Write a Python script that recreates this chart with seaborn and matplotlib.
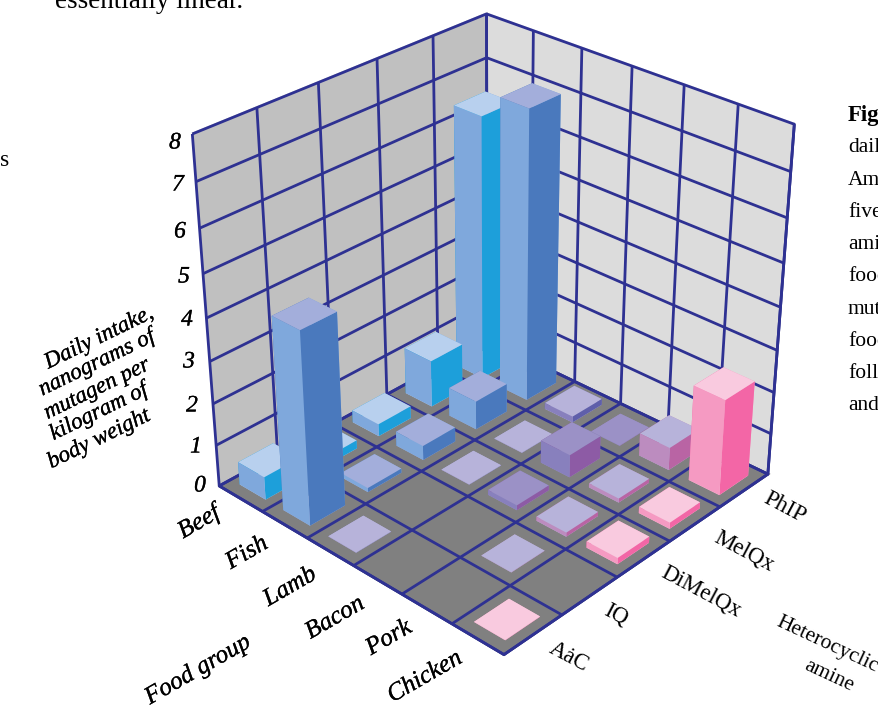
import numpy as np
import matplotlib
matplotlib.use("Agg")
import matplotlib.pyplot as plt
import matplotlib.patheffects as pe
import seaborn as sns

# Daily intake (ng mutagen / kg body weight) by food group and heterocyclic amine
foods = ["Beef", "Fish", "Lamb", "Bacon", "Pork", "Chicken"]
amines = ["AȧC", "IQ", "DiMelQx", "MelQx", "PhIP"]
beef = [0.55, 0.2, 0.3, 1.15, 6.4]
fish = [4.55, 0.1, 0.35, 0.7, 7.0]
lamb = [0.005, np.nan, 0.005, 0.005, 0.15]
bacon = [np.nan, np.nan, 0.12, 0.55, 0.005]
pork = [np.nan, 0.005, 0.1, 0.1, 0.55]
chicken = [0.005, np.nan, 0.15, 0.15, 2.3]
intake = [beef, fish, lamb, bacon, pork, chicken]
z_ticks = list(range(9))

# (top, left side, right side) for each food group's bars
face_colors = {
    "Beef": ("#B8D0EE", "#7FA8DC", "#1D9FDA"),
    "Fish": ("#A3AEDB", "#7FA8DC", "#4A79BD"),
    "Lamb": ("#B7B3DA", "#8880BD", "#5F5FAA"),
    "Bacon": ("#9B91C6", "#8880BD", "#8D5BA5"),
    "Pork": ("#B7B3DA", "#BC8CBF", "#B964A4"),
    "Chicken": ("#F9CADF", "#F59AC2", "#F366A6"),
}
NAVY = "#2E3192"
W, H = 879, 706

sns.set_theme(style="white", rc={"grid.color": NAVY, "grid.linewidth": 2.0, "axes3d.grid": True})
plt.rcParams["font.family"] = ["Liberation Serif", "DejaVu Serif"]

fig = plt.figure(figsize=(W / 100, H / 100), dpi=100, facecolor="white")
L, B, S = 144.41, 43.08, 682.09
ax = fig.add_axes([L / W, B / H, S / W, S / H], projection="3d", computed_zorder=False)
ax.set_xlim(0, 6)
ax.set_ylim(0, 5)
ax.set_zlim(0, 8)
ax.view_init(elev=30.06, azim=-46.95, roll=0)
ax.set_proj_type("persp", focal_length=0.5924)
ax.set_box_aspect((1, 1.0076, 0.9997))
ax.patch.set_alpha(0)

for axis in (ax.xaxis, ax.yaxis, ax.zaxis):
    axis._axinfo["tick"]["inward_factor"] = 0
    axis._axinfo["tick"]["outward_factor"] = 0
    axis.line.set_color(NAVY)
    axis.line.set_linewidth(2)
    axis.pane.set_edgecolor(NAVY)
    axis.pane.set_linewidth(2)
ax.xaxis.set_pane_color("#C0C0C0")
ax.yaxis.set_pane_color("#DCDCDC")
ax.zaxis.set_pane_color("#808080")
ax.set_xticks(range(len(foods) + 1))
ax.set_yticks(range(len(amines) + 1))
ax.set_zticks(z_ticks)
ax.set_xticklabels([])
ax.set_yticklabels([])
ax.set_zticklabels([])

bar_w = 0.6
inset = (1 - bar_w) / 2
for i, food in enumerate(foods):
    top, left, right = face_colors[food]
    for j, amine in enumerate(amines):
        v = intake[i][j]
        if np.isnan(v):
            continue
        ax.bar3d(i + inset, j + inset, 0, bar_w, bar_w, v, color=[top, top, left, left, right, right],
                 shade=False, linewidth=0, zorder=10 + i * 10 + (len(amines) - j))

heavier = [pe.withStroke(linewidth=0.2, foreground="black")]


def put(px, py, s, rot=0, size=14, **kw):
    fig.text(px / W, 1 - py / H, s, rotation=rot, rotation_mode="anchor", ha=kw.pop("ha", "center"),
             va=kw.pop("va", "center"), fontsize=size, color="black", **kw)


z_label_xy = [(200, 486), (196, 447), (192, 406), (189, 362), (187, 320), (184, 277), (180, 232), (178, 185), (175, 143)]
for v, (px, py) in zip(z_ticks, z_label_xy):
    put(px, py, str(v), size=17, style="italic", path_effects=heavier)
food_label_xy = [(199, 522), (247, 553), (290, 587), (335, 618), (389, 638), (425, 677)]
for s, (px, py) in zip(foods, food_label_xy):
    put(px, py, s, rot=30, size=18, style="italic", path_effects=heavier)
put(198, 670, "Food group", rot=30, size=18, style="italic", path_effects=heavier)
amine_label_xy = [(569, 657), (616, 615), (701, 592), (744, 551), (785, 508)]
for s, (px, py) in zip(amines, amine_label_xy):
    put(px, py, s, rot=-28, size=16.5)
put(827, 645, "Heterocyclic", rot=-25, size=15.5)
put(829, 676, "amine", rot=-25, size=15.5)

y_title = ["Daily intake,", "nanograms of", "mutagen per", "kilogram of", "body weight"]
y_title_xy = [(99, 338), (97, 363), (97, 389), (99, 412), (99, 439)]
for s, (px, py) in zip(y_title, y_title_xy):
    put(px, py, s, rot=26, size=16.5, style="italic", path_effects=heavier)

# Running text around the figure, cut by the page edge
put(55, 8, "essentially linear.", size=19.5, ha="left", va="baseline")
put(0, 160, "s", size=17, ha="left")
put(848, 116, "Fig", size=16.5, ha="left", weight="bold")
caption = ["dail", "Am", "five", "ami", "food", "mut", "food", "follo", "and"]
for k, s in enumerate(caption):
    put(848, 148 + k * 32.2, s, size=15.5, ha="left")

fig.savefig("out.png", dpi=100, facecolor="white")
